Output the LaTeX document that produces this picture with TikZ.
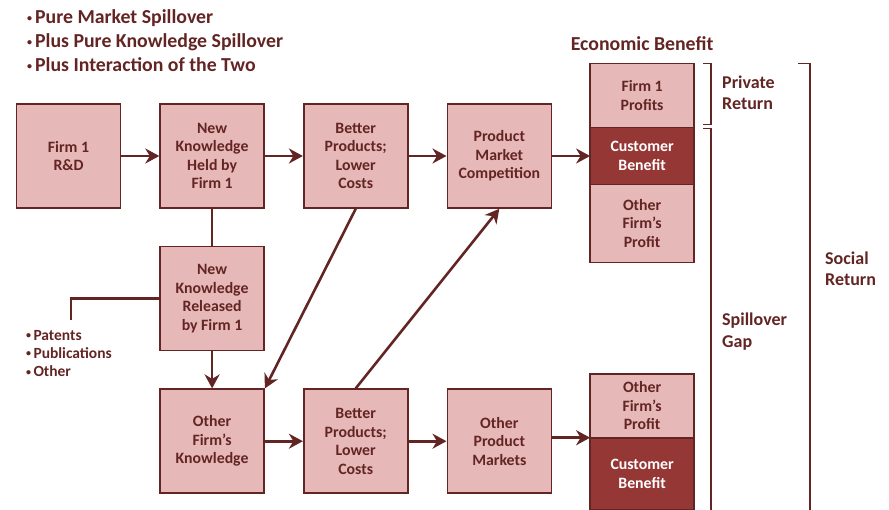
\documentclass[tikz,border=0pt]{standalone}
\usepackage{fontspec}
\setmainfont{Carlito}
\usetikzlibrary{positioning}
\usetikzlibrary{arrows.meta}
\definecolor{darkred}{HTML}{632523}
\definecolor{lightred}{HTML}{E6B9B8}
\definecolor{midred}{HTML}{953735}
% small raised bullet
\newcommand{\bul}{{\fontsize{10}{10}\selectfont\raisebox{0.18em}{•}}\hspace{0.15em}}
\tikzset{
        boxnode/.style={align=center,inner sep=0pt,text=darkred,font=\bfseries\fontsize{15.8}{18.5}\selectfont},
        % Process boxes
        node_step/.style={boxnode, rectangle, draw=darkred, fill=lightred, line width=1.6pt, minimum width=104pt, minimum height=104pt},
        % Benefit boxes
        node_benefit/.style={boxnode, rectangle, draw=darkred, fill=lightred, line width=1.6pt, outer sep=0pt, minimum width=104pt},
        % Customer benefit boxes
        node_customer/.style={node_benefit, fill=midred, text=white},
        % Text labels
        node_label/.style={align=left, inner sep=0pt, text=darkred, font=\bfseries\fontsize{18}{21.5}\selectfont},
        % Connectors
        link/.style={draw=darkred, line width=2.6pt},
        arrowlink/.style={link, -{Stealth[length=14pt,width=15pt,inset=4.5pt]}},
        bracket/.style={draw=darkred, line width=1.6pt}
}
\begin{document}
\begin{tikzpicture}[x=1pt, y=-1pt]
    \useasboundingbox (0,0) rectangle (889,509);
    % Top row
    \node[node_step] (rd) at (68.5,156) {Firm 1\\R\&D};
    \node[node_step, right=38pt of rd] (nkh) {New\\Knowledge\\Held by\\Firm 1};
    \node[node_step, right=38pt of nkh] (bp1) {Better\\Products;\\Lower\\Costs};
    \node[node_step, right=38pt of bp1] (pmc) {Product\\Market\\Competition};
    % Middle and bottom rows
    \node[node_step, below=37pt of nkh] (nkr) {New\\Knowledge\\Released\\by Firm 1};
    \node[node_step, below=37pt of nkr] (ofk) {Other\\Firm’s\\Knowledge};
    \node[node_step, right=38pt of ofk] (bp2) {Better\\Products;\\Lower\\Costs};
    \node[node_step, right=38pt of bp2] (opm) {Other\\Product\\Markets};
    % Economic benefit column
    \node[node_customer, minimum height=57pt, right=38pt of pmc] (cb1) {Customer\\Benefit};
    \node[node_benefit, minimum height=64pt, above=0pt of cb1] (f1p) {Firm 1\\Profits};
    \node[node_benefit, minimum height=78pt, below=0pt of cb1] (ofp1) {Other\\Firm’s\\Profit};
    \node[node_benefit, minimum height=64pt, anchor=south west] (ofp2) at ([xshift=38pt,yshift=3.5pt]opm.east) {Other\\Firm’s\\Profit};
    \node[node_customer, minimum height=72pt, below=0pt of ofp2] (cb2) {Customer\\Benefit};
    % Texts
    \node[node_label, font=\bfseries\fontsize{19.8}{24}\selectfont, anchor=north west] (kinds) at (27,9)
        {\bul Pure Market Spillover\\\bul Plus Pure Knowledge Spillover\\\bul Plus Interaction of the Two};
    \node[node_label, font=\bfseries\fontsize{19.8}{22}\selectfont, above=13pt of f1p] (econ) {Economic Benefit};
    \node[node_label, anchor=west] (priv) at (722,92.5) {Private\\Return};
    \node[node_label, anchor=west] (gap) at (722,331.5) {Spillover\\Gap};
    \node[node_label, anchor=west] (soc) at (825,268.5) {Social\\Return};
    \node[node_label, font=\bfseries\fontsize{15.5}{18.3}\selectfont, anchor=north west] (chan) at (26,330)
        {\bul Patents\\\bul Publications\\\bul Other};
    % Connectors
    \draw[arrowlink] (rd) -- (nkh);
    \draw[arrowlink] (nkh) -- (bp1);
    \draw[arrowlink] (bp1) -- (pmc);
    \draw[arrowlink] (pmc) -- (cb1);
    \draw[link] (nkh) -- (nkr);
    \draw[arrowlink] (nkr) -- (ofk);
    \draw[arrowlink] (bp1.south) -- (ofk.north east);
    \draw[arrowlink] (bp2.north) -- (pmc.south);
    \draw[arrowlink] (ofk) -- (bp2);
    \draw[arrowlink] (bp2) -- (opm);
    \draw[arrowlink] (opm.east |- ofp2.south) -- (ofp2.south west);
    \coordinate (chantop) at (71,320);
    \draw[link] (nkr.west) -| (chantop);
    % Brackets
    \draw[bracket] ([xshift=9pt]f1p.north east) -- ++(8,0) -- ++(0,61) -- ++(-8,0);
    \draw[bracket] ([xshift=9pt,yshift=-1pt]cb1.north east) -- ++(8,0) -- ++(0,400);
    \draw[bracket] ([xshift=104pt]f1p.north east) -- ++(12,0) -- ++(0,470);
\end{tikzpicture}
\end{document}
